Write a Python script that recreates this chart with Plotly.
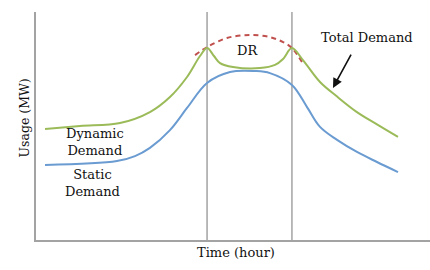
import plotly.graph_objects as go

# Time in hours, usage in relative units (0-100)
total_t = [0.55, 2.68, 5.12, 6.94, 8.16, 9.20, 9.99, 10.42, 10.84, 11.21, 12.0, 13.64, 14.56, 15.05, 15.59, 16.26, 17.30, 18.34, 19.55, 20.77, 22.05]
total_u = [48.7, 50.0, 51.3, 56.1, 62.7, 71.5, 80.7, 84.2, 80.7, 77.6, 75.9, 75.4, 76.8, 79.4, 84.2, 78.9, 69.3, 62.9, 56.1, 50.7, 45.2]

static_t = [0.55, 4.93, 6.03, 6.94, 8.16, 9.20, 10.42, 11.82, 13.34, 14.25, 15.59, 16.51, 17.30, 18.34, 19.55, 20.77, 22.05]
static_u = [32.9, 34.6, 36.8, 40.4, 48.2, 57.9, 68.9, 73.7, 74.1, 73.2, 68.0, 58.3, 49.6, 43.9, 38.6, 34.2, 29.8]

dr_t = [9.69, 10.42, 11.63, 13.04, 14.25, 15.05, 15.59, 16.2]
dr_u = [81.1, 84.6, 88.6, 89.9, 89.0, 86.8, 84.2, 78.1]

dr_window = [10.42, 15.59]

FONT = "DejaVu Serif"
AX = "#a3a3a3"
INK = "#111111"

fig = go.Figure()
fig.add_trace(go.Scatter(x=dr_t, y=dr_u, mode="lines", line=dict(color="#c0504d", width=2, dash="5px,4px", shape="spline"), hoverinfo="skip"))
fig.add_trace(go.Scatter(x=static_t, y=static_u, mode="lines", line=dict(color="#6a9bd1", width=2, shape="spline", smoothing=1.0), hoverinfo="skip"))
fig.add_trace(go.Scatter(x=total_t, y=total_u, mode="lines", line=dict(color="#9bbb59", width=2, shape="spline", smoothing=1.0), hoverinfo="skip"))

for xv in dr_window:
    fig.add_shape(type="line", x0=xv, x1=xv, y0=0, y1=100, xref="x", yref="y", line=dict(color=AX, width=1.5), layer="below")

def txt(x, y, s, size=13, **kw):
    fig.add_annotation(x=x, y=y, xref="x", yref="y", text=s, showarrow=False,
                       font=dict(family=FONT, size=size, color=INK), **kw)

txt(3.59, 42.8, "Dynamic<br>Demand")
txt(3.45, 24.8, "Static<br>Demand")
txt(12.91, 82.9, "DR")
txt(20.16, 89.0, "Total Demand")

fig.add_annotation(x=18.09, y=66.7, ax=19.24, ay=82.0, xref="x", yref="y", axref="x", ayref="y",
                   text="", showarrow=True, arrowhead=2, arrowsize=1.2, arrowwidth=1.6, arrowcolor=INK)

fig.add_annotation(x=12.18, y=0, xref="x", yref="paper", yshift=-22, text="Time (hour)", showarrow=False,
                   font=dict(family=FONT, size=13, color=INK))
fig.add_annotation(x=0, y=53.5, xref="paper", yref="y", xshift=-21, text="Usage (MW)", showarrow=False, textangle=-90,
                   font=dict(family=FONT, size=12.5, color=INK))

fig.update_layout(
    width=430, height=270, margin=dict(l=36, r=0, t=12, b=30),
    paper_bgcolor="white", plot_bgcolor="white", showlegend=False,
    xaxis=dict(range=[0, 24], showgrid=False, zeroline=False, showticklabels=False, ticks="",
               showline=True, linecolor=AX, linewidth=1.5),
    yaxis=dict(range=[0, 100], showgrid=False, zeroline=False, showticklabels=False, ticks="",
               showline=True, linecolor=AX, linewidth=1.5),
)

# remove the page's default body margin so the figure fills the window exactly
fig.write_html("out.html", config={"displayModeBar": False},
               post_script="document.body.style.margin='0';document.body.style.overflow='hidden';")
